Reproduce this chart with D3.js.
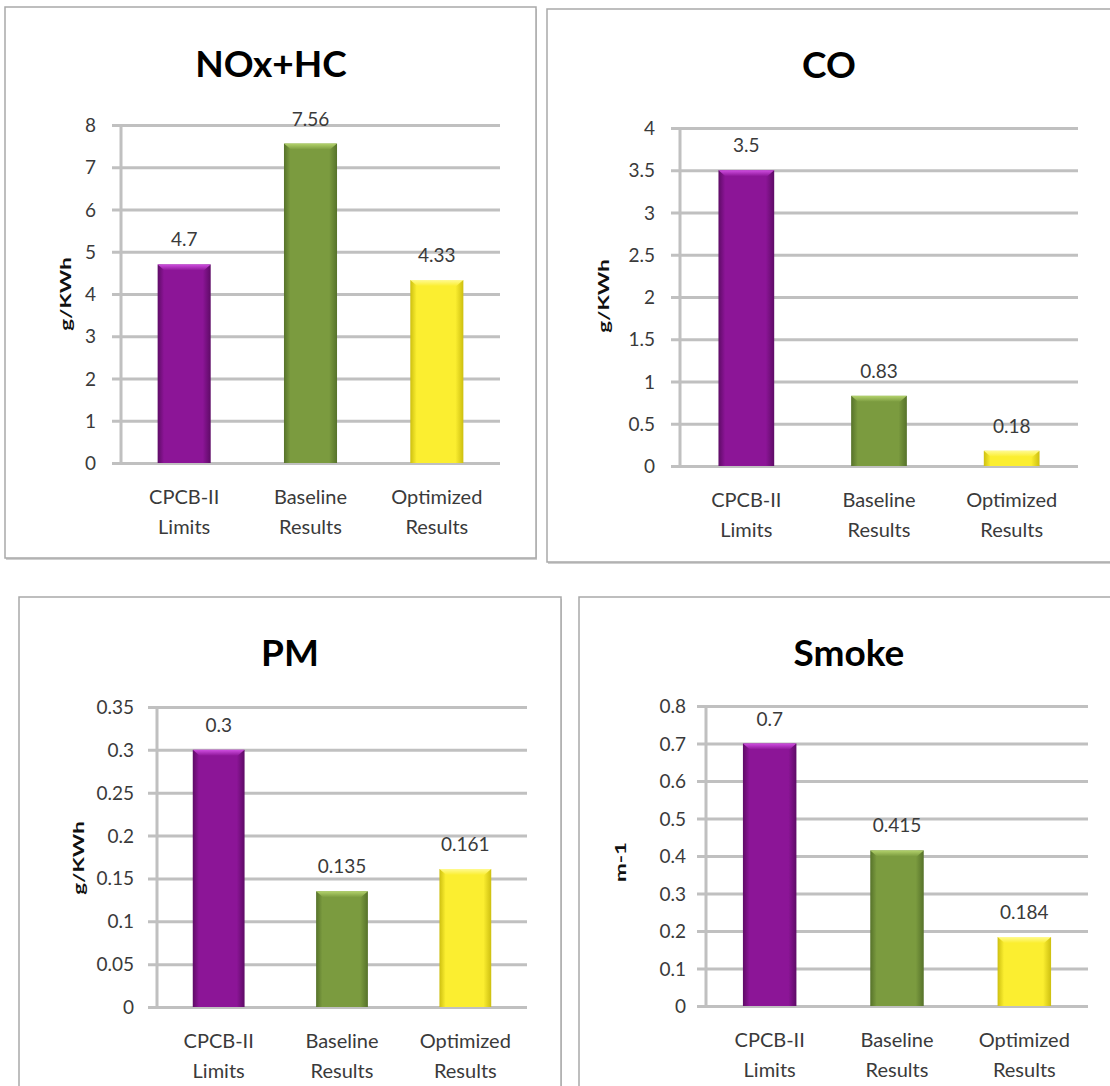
<!DOCTYPE html>
<html>
<head>
<meta charset="utf-8">
<script src="https://cdn.jsdelivr.net/npm/d3@7"></script>
<style>
  html, body { margin: 0; padding: 0; background: #fff; }
  svg { display: block; }
  text { font-family: Lato, "Open Sans", sans-serif; }
</style>
</head>
<body>
<svg id="chart" width="1110" height="1086"></svg>
<script>
// ---------- data ----------
const categories = ["CPCB-II Limits", "Baseline Results", "Optimized Results"];
const categoryLines = [["CPCB-II", "Limits"], ["Baseline", "Results"], ["Optimized", "Results"]];
const titles = ["NOx+HC", "CO", "PM", "Smoke"];
const units = ["g/KWh", "g/KWh", "g/KWh", "m-1"];
const noxValues = [4.7, 7.56, 4.33];
const coValues = [3.5, 0.83, 0.18];
const pmValues = [0.3, 0.135, 0.161];
const smokeValues = [0.7, 0.415, 0.184];
const noxTicks = [0, 1, 2, 3, 4, 5, 6, 7, 8];
const coTicks = [0, 0.5, 1, 1.5, 2, 2.5, 3, 3.5, 4];
const pmTicks = [0, 0.05, 0.1, 0.15, 0.2, 0.25, 0.3, 0.35];
const smokeTicks = [0, 0.1, 0.2, 0.3, 0.4, 0.5, 0.6, 0.7, 0.8];
const valueLabels = [["4.7", "7.56", "4.33"], ["3.5", "0.83", "0.18"], ["0.3", "0.135", "0.161"], ["0.7", "0.415", "0.184"]];
const tickLabels = [
  ["0","1","2","3","4","5","6","7","8"],
  ["0","0.5","1","1.5","2","2.5","3","3.5","4"],
  ["0","0.05","0.1","0.15","0.2","0.25","0.3","0.35"],
  ["0","0.1","0.2","0.3","0.4","0.5","0.6","0.7","0.8"]
];

// ---------- layout ----------
const panels = [
  { values: noxValues, ticks: noxTicks, box: [5, 7, 531, 551], plot: [121, 500, 125, 463], titleXY: [271, 77], ylab: [65, 294], tickX: 96 },
  { values: coValues, ticks: coTicks, box: [547, 9, 575, 553], plot: [680, 1078, 128, 466], titleXY: [829, 78], ylab: [603, 296], tickX: 655 },
  { values: pmValues, ticks: pmTicks, box: [19, 597, 542, 520], plot: [157, 527, 707, 1007], titleXY: [290, 666], ylab: [78, 858], tickX: 134 },
  { values: smokeValues, ticks: smokeTicks, box: [579, 597, 560, 520], plot: [706, 1088, 706, 1006], titleXY: [849, 666], ylab: [620, 862], tickX: 686 }
];

const colors = [
  { base: "#8c1597", dark: "#5e0b66", light: "#cf4ee0" },
  { base: "#7b9b3f", dark: "#56722a", light: "#b3d26c" },
  { base: "#fbee30", dark: "#cdbf10", light: "#fffa90" }
];

const svg = d3.select("#chart");
const defs = svg.append("defs");

colors.forEach((c, i) => {
  const g = defs.append("linearGradient").attr("id", "bar" + i)
    .attr("x1", "0%").attr("x2", "100%").attr("y1", "0%").attr("y2", "0%");
  g.append("stop").attr("offset", "0%").attr("stop-color", c.dark);
  g.append("stop").attr("offset", "12%").attr("stop-color", c.base);
  g.append("stop").attr("offset", "85%").attr("stop-color", c.base);
  g.append("stop").attr("offset", "100%").attr("stop-color", c.dark);
  const t = defs.append("linearGradient").attr("id", "top" + i)
    .attr("x1", "0%").attr("x2", "0%").attr("y1", "0%").attr("y2", "100%");
  t.append("stop").attr("offset", "0%").attr("stop-color", c.light);
  t.append("stop").attr("offset", "100%").attr("stop-color", c.base);
});

const gridColor = "#c0c0c0";
const textColor = "#3a3a3a";

panels.forEach((p, pi) => {
  const [bx, by, bw, bh] = p.box;
  // shadow + border
  svg.append("rect").attr("x", bx + 1).attr("y", by + 2).attr("width", bw).attr("height", bh)
    .attr("fill", "#cfcfcf");
  svg.append("rect").attr("x", bx).attr("y", by).attr("width", bw).attr("height", bh)
    .attr("fill", "#fff").attr("stroke", "#a9a9a9").attr("stroke-width", 1.5);

  const [left, right, top, bottom] = p.plot;
  const y = d3.scaleLinear().domain([p.ticks[0], p.ticks[p.ticks.length - 1]]).range([bottom, top]);
  const x = d3.scaleBand().domain(categories).range([left, right]).paddingInner(0.58).paddingOuter(0.29);

  const g = svg.append("g");

  // gridlines via axis
  const axis = d3.axisLeft(y).tickValues(p.ticks).tickSize(-(right - left)).tickFormat("");
  const ga = g.append("g").attr("transform", `translate(${left},0)`).call(axis);
  ga.select(".domain").remove();
  ga.selectAll(".tick line").attr("stroke", gridColor).attr("stroke-width", 3).attr("x1", -9);

  // vertical axis line
  g.append("line").attr("x1", left).attr("x2", left).attr("y1", top).attr("y2", bottom)
    .attr("stroke", gridColor).attr("stroke-width", 3);

  // tick labels
  g.selectAll(".tl").data(p.ticks).enter().append("text")
    .attr("x", p.tickX).attr("y", d => y(d) + 7)
    .attr("text-anchor", "end").attr("font-size", 19).attr("fill", textColor)
    .text((d, i) => tickLabels[pi][i]);

  // bars
  const bars = g.selectAll(".bar").data(p.values).enter().append("g");
  bars.append("rect")
    .attr("x", (d, i) => x(categories[i]))
    .attr("y", d => y(d))
    .attr("width", x.bandwidth())
    .attr("height", d => y(p.ticks[0]) - y(d))
    .attr("fill", (d, i) => `url(#bar${i})`);
  bars.append("path")
    .attr("d", (d, i) => {
      const x0 = x(categories[i]), w = x.bandwidth(), t = y(d), h = 6;
      return `M${x0},${t}L${x0 + w},${t}L${x0 + w - 7},${t + h}L${x0 + 7},${t + h}Z`;
    })
    .attr("fill", (d, i) => `url(#top${i})`);

  // value labels
  g.selectAll(".vl").data(p.values).enter().append("text")
    .attr("x", (d, i) => x(categories[i]) + x.bandwidth() / 2)
    .attr("y", d => y(d) - 18)
    .attr("text-anchor", "middle").attr("font-size", 19).attr("fill", textColor)
    .text((d, i) => valueLabels[pi][i]);

  // category labels
  categoryLines.forEach((lines, i) => {
    const cx = x(categories[i]) + x.bandwidth() / 2;
    lines.forEach((ln, li) => {
      g.append("text").attr("x", cx).attr("y", bottom + 41 + li * 30)
        .attr("text-anchor", "middle").attr("font-size", 20).attr("fill", textColor).text(ln);
    });
  });

  // title
  g.append("text").attr("x", p.titleXY[0]).attr("y", p.titleXY[1])
    .attr("text-anchor", "middle").attr("font-size", 37).attr("font-weight", "bold")
    .attr("fill", "#000").text(titles[pi]);

  // y label (stretched along its direction like the original)
  g.append("text")
    .attr("transform", `translate(${p.ylab[0]},${p.ylab[1]}) rotate(-90) scale(1.4,1)`)
    .attr("text-anchor", "middle").attr("dy", "0.35em")
    .attr("font-size", 16).attr("font-weight", "bold").attr("fill", "#111")
    .text(units[pi]);
});
</script>
</body>
</html>
